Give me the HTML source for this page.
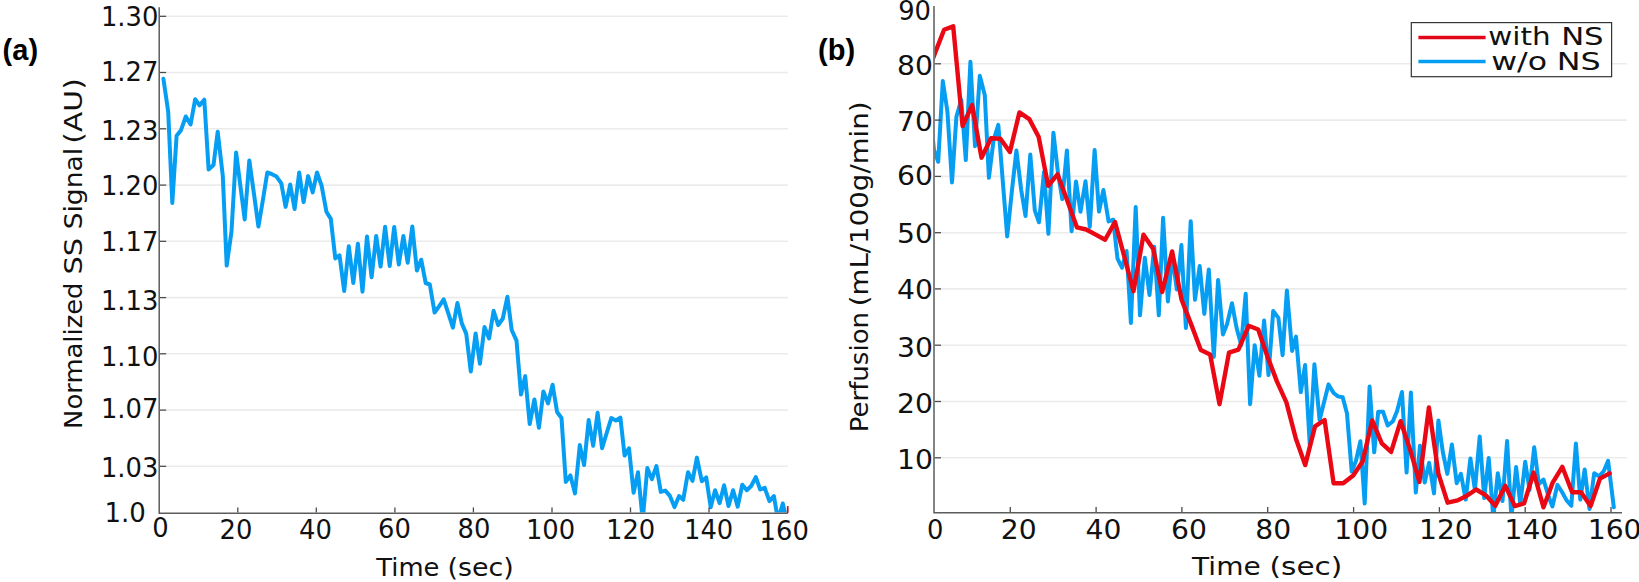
<!DOCTYPE html>
<html lang="en">
<head>
<meta charset="utf-8">
<title>Normalized SS signal and perfusion over time</title>
<style>
html,body{margin:0;padding:0;background:#fff;}
body{width:1639px;height:582px;overflow:hidden;}
svg{display:block;}
.t{font-family:'DejaVu Sans','Liberation Sans',sans-serif;font-size:25.8px;fill:#111;}
.l{font-family:'DejaVu Sans','Liberation Sans',sans-serif;font-size:25px;fill:#111;}
.p{font-family:'Liberation Sans',sans-serif;font-weight:bold;font-size:29px;fill:#000;}
.ax{stroke:#5c5c5c;stroke-width:1.5;fill:none;}
.tk{stroke:#4a4a4a;stroke-width:1.3;fill:none;}
.g{stroke:#ebebeb;stroke-width:1.6;fill:none;}
.b{stroke:#069ef2;stroke-width:4.0;fill:none;stroke-linejoin:round;stroke-linecap:round;}
.r{stroke:#ea0814;stroke-width:4.4;fill:none;stroke-linejoin:round;stroke-linecap:round;}
</style>
</head>
<body>
<svg width="1639" height="582" viewBox="0 0 1639 582">
<rect x="0" y="0" width="1639" height="582" fill="#ffffff"/>
<defs>
<clipPath id="ca"><rect x="159.9" y="0" width="628.7" height="512.5"/></clipPath>
<clipPath id="cb"><rect x="934.7" y="0" width="690" height="512.0"/></clipPath>
</defs>

<line class="g" x1="166.2" y1="16.3" x2="787.9" y2="16.3"/>
<line class="g" x1="166.2" y1="72.5" x2="787.9" y2="72.5"/>
<line class="g" x1="166.2" y1="128.8" x2="787.9" y2="128.8"/>
<line class="g" x1="166.2" y1="185.1" x2="787.9" y2="185.1"/>
<line class="g" x1="166.2" y1="241.3" x2="787.9" y2="241.3"/>
<line class="g" x1="166.2" y1="297.6" x2="787.9" y2="297.6"/>
<line class="g" x1="166.2" y1="353.8" x2="787.9" y2="353.8"/>
<line class="g" x1="166.2" y1="410.1" x2="787.9" y2="410.1"/>
<line class="g" x1="166.2" y1="466.3" x2="787.9" y2="466.3"/>
<g clip-path="url(#ca)"><polyline class="b" points="163.4,78.8 168.2,111.7 172.3,203.0 176.6,135.8 181.0,130.2 185.8,116.5 190.6,124.5 195.2,99.2 199.5,105.4 204.3,99.7 208.6,169.4 213.5,165.0 217.7,131.7 222.8,176.1 226.7,265.6 231.5,231.4 236.1,152.5 240.4,186.0 244.7,219.4 249.3,160.4 253.9,193.4 258.4,226.6 262.9,200.0 267.3,172.5 272.0,174.2 276.5,176.6 281.3,183.3 285.6,206.9 290.2,184.5 294.6,209.0 299.2,172.5 303.6,202.1 308.1,176.1 312.7,192.4 317.0,172.5 321.6,185.7 326.4,211.7 330.8,218.9 335.3,258.4 339.5,255.3 344.2,291.0 348.8,246.2 353.3,283.0 357.9,243.8 362.5,291.7 367.0,236.5 371.6,277.3 376.2,236.0 380.6,266.6 385.1,226.7 389.7,266.0 394.2,226.9 398.8,264.5 403.4,236.0 407.7,262.8 412.3,226.4 416.9,270.5 421.2,259.7 425.7,283.0 429.8,284.5 434.6,312.6 439.2,306.1 443.7,299.3 448.4,313.6 452.9,327.7 457.4,303.0 461.8,323.4 466.2,333.6 470.8,371.4 475.6,333.4 479.9,363.7 484.5,326.9 489.1,338.5 493.6,310.8 498.2,325.2 502.8,318.5 507.4,296.8 511.7,330.0 516.5,340.6 521.0,394.5 525.2,376.1 529.7,424.1 534.4,399.4 538.9,427.7 543.4,391.4 548.0,403.4 552.6,384.8 557.1,412.0 561.5,418.0 565.8,481.9 570.4,475.4 575.0,493.4 579.8,445.1 584.1,465.0 588.7,420.0 593.2,445.8 597.6,412.8 602.1,448.2 606.7,433.0 611.3,418.1 615.8,420.5 620.4,417.6 624.6,455.6 629.0,448.3 633.6,492.8 638.0,472.2 642.7,520.0 647.3,468.1 651.9,479.2 656.4,466.1 660.8,491.9 665.3,490.6 669.7,495.6 674.5,507.1 679.1,496.1 683.2,499.8 688.0,472.3 692.5,480.9 696.9,457.6 701.8,481.2 706.2,477.4 710.7,507.3 715.1,490.2 719.6,503.2 724.1,485.3 728.5,506.0 733.1,490.2 737.7,506.6 742.3,484.7 746.8,490.2 751.2,486.0 755.8,477.1 760.2,489.5 764.7,487.8 769.4,501.1 773.9,496.1 778.0,520.0 782.8,503.5 786.9,522.0"/></g>
<line x1="787.7" y1="506" x2="787.7" y2="513" stroke="#ea0814" stroke-width="1.6"/>
<path class="ax" d="M159.2,7.3 V513.2 H787.9"/>
<line class="tk" x1="160.0" y1="16.3" x2="166.2" y2="16.3"/>
<line class="tk" x1="160.0" y1="72.5" x2="166.2" y2="72.5"/>
<line class="tk" x1="160.0" y1="128.8" x2="166.2" y2="128.8"/>
<line class="tk" x1="160.0" y1="185.1" x2="166.2" y2="185.1"/>
<line class="tk" x1="160.0" y1="241.3" x2="166.2" y2="241.3"/>
<line class="tk" x1="160.0" y1="297.6" x2="166.2" y2="297.6"/>
<line class="tk" x1="160.0" y1="353.8" x2="166.2" y2="353.8"/>
<line class="tk" x1="160.0" y1="410.1" x2="166.2" y2="410.1"/>
<line class="tk" x1="160.0" y1="466.3" x2="166.2" y2="466.3"/>
<line class="tk" x1="237.8" y1="512.4000000000001" x2="237.8" y2="507.40000000000003"/>
<line class="tk" x1="316.3" y1="512.4000000000001" x2="316.3" y2="507.40000000000003"/>
<line class="tk" x1="394.9" y1="512.4000000000001" x2="394.9" y2="507.40000000000003"/>
<line class="tk" x1="473.4" y1="512.4000000000001" x2="473.4" y2="507.40000000000003"/>
<line class="tk" x1="552.0" y1="512.4000000000001" x2="552.0" y2="507.40000000000003"/>
<line class="tk" x1="630.5" y1="512.4000000000001" x2="630.5" y2="507.40000000000003"/>
<line class="tk" x1="709.0" y1="512.4000000000001" x2="709.0" y2="507.40000000000003"/>
<line class="tk" x1="787.6" y1="512.4000000000001" x2="787.6" y2="507.40000000000003"/>
<text class="t" x="158.4" y="26.0" text-anchor="end">1.30</text>
<text class="t" x="158.4" y="80.6" text-anchor="end">1.27</text>
<text class="t" x="158.4" y="139.9" text-anchor="end">1.23</text>
<text class="t" x="158.4" y="195.0" text-anchor="end">1.20</text>
<text class="t" x="158.4" y="251.4" text-anchor="end">1.17</text>
<text class="t" x="158.4" y="309.6" text-anchor="end">1.13</text>
<text class="t" x="158.4" y="365.5" text-anchor="end">1.10</text>
<text class="t" x="158.4" y="418.3" text-anchor="end">1.07</text>
<text class="t" x="158.4" y="477.4" text-anchor="end">1.03</text>
<text class="t" x="104.4" y="522.1" textLength="41.3" lengthAdjust="spacingAndGlyphs">1.0</text>
<text class="t" x="160.5" y="536.9" text-anchor="middle">0</text>
<text class="t" x="235.9" y="538.9" text-anchor="middle">20</text>
<text class="t" x="315.4" y="538.7" text-anchor="middle">40</text>
<text class="t" x="394.4" y="538.0" text-anchor="middle">60</text>
<text class="t" x="473.9" y="538.3" text-anchor="middle">80</text>
<text class="t" x="550.5" y="538.5" text-anchor="middle">100</text>
<text class="t" x="630.6" y="539.1" text-anchor="middle">120</text>
<text class="t" x="708.6" y="539.2" text-anchor="middle">140</text>
<text class="t" x="784.2" y="539.6" text-anchor="middle">160</text>
<text class="p" x="2.6" y="60.2">(a)</text>
<line class="g" x1="941.0" y1="63.8" x2="1626.8" y2="63.8"/>
<line class="g" x1="941.0" y1="120.1" x2="1626.8" y2="120.1"/>
<line class="g" x1="941.0" y1="176.4" x2="1626.8" y2="176.4"/>
<line class="g" x1="941.0" y1="232.7" x2="1626.8" y2="232.7"/>
<line class="g" x1="941.0" y1="288.9" x2="1626.8" y2="288.9"/>
<line class="g" x1="941.0" y1="345.2" x2="1626.8" y2="345.2"/>
<line class="g" x1="941.0" y1="401.5" x2="1626.8" y2="401.5"/>
<line class="g" x1="941.0" y1="457.8" x2="1626.8" y2="457.8"/>
<g clip-path="url(#cb)"><polyline class="b" points="931.0,120.0 934.0,150.0 938.2,161.8 942.8,81.0 947.4,111.5 952.0,182.4 956.4,116.7 961.3,99.9 965.8,160.1 970.4,61.7 975.0,146.2 979.8,75.8 984.8,95.3 988.9,177.8 993.6,140.0 998.3,124.9 1002.8,181.5 1007.2,236.4 1012.0,190.0 1016.4,150.5 1021.2,190.0 1025.5,216.0 1030.3,154.6 1034.8,210.3 1039.0,222.3 1044.0,172.0 1048.4,233.8 1053.4,132.8 1058.0,173.0 1062.3,199.1 1066.9,150.4 1071.6,231.2 1076.0,181.5 1080.5,211.8 1085.5,181.2 1089.8,226.9 1094.6,150.0 1099.0,211.5 1103.4,190.0 1108.6,221.5 1113.2,219.7 1117.5,258.7 1122.0,267.7 1126.6,251.0 1130.9,323.0 1135.7,207.1 1140.0,315.3 1144.8,257.7 1149.5,295.0 1154.2,246.8 1158.8,315.3 1163.1,217.8 1167.9,301.5 1172.2,255.0 1176.8,289.5 1181.4,245.1 1185.9,328.0 1190.7,221.2 1195.0,299.8 1199.7,266.1 1204.3,313.9 1208.8,269.5 1213.8,356.9 1218.1,279.9 1222.9,334.4 1227.1,323.9 1232.0,303.3 1236.6,328.0 1241.2,345.0 1245.7,293.8 1250.1,404.2 1254.7,345.2 1259.4,375.8 1264.1,320.4 1268.5,375.0 1273.2,311.0 1278.4,317.9 1282.6,355.2 1286.9,290.4 1292.1,350.9 1296.0,336.6 1300.8,392.1 1305.1,365.0 1309.8,445.0 1314.4,364.3 1319.6,420.0 1324.1,402.0 1328.5,384.4 1333.6,393.0 1338.0,396.4 1342.7,397.2 1347.0,413.6 1351.7,471.5 1355.9,461.0 1360.4,441.3 1364.7,503.5 1369.6,386.6 1374.2,452.3 1378.2,411.8 1383.1,411.8 1387.7,425.5 1392.9,421.2 1397.1,410.9 1402.0,392.0 1406.6,472.6 1410.9,392.4 1415.8,492.6 1420.0,445.8 1424.7,482.6 1429.1,462.9 1434.0,493.4 1438.4,420.4 1442.8,452.0 1447.3,473.9 1451.9,444.6 1456.7,483.3 1460.9,473.9 1465.7,499.6 1470.4,458.4 1474.9,490.0 1479.7,436.5 1484.2,498.0 1488.7,458.1 1493.3,518.0 1497.8,473.3 1502.5,501.1 1507.1,441.1 1511.4,518.0 1516.1,467.1 1520.3,504.2 1525.2,461.7 1529.5,490.0 1534.2,447.3 1538.8,484.1 1543.5,479.5 1548.1,495.0 1552.4,506.5 1557.4,484.9 1562.0,492.0 1566.6,500.4 1571.3,505.8 1575.9,443.6 1580.3,499.6 1584.7,469.4 1589.5,508.9 1594.2,473.3 1599.1,476.4 1603.8,471.0 1608.1,460.9 1613.8,507.3"/><polyline class="r" points="925.0,80.0 934.3,54.9 944.1,29.8 953.2,26.3 962.6,126.0 972.1,105.1 981.5,157.7 991.0,138.2 1000.4,138.8 1009.9,152.0 1019.4,112.4 1029.3,119.1 1038.6,136.7 1048.2,185.8 1057.5,174.3 1067.5,201.3 1077.0,227.4 1086.2,229.5 1095.7,234.6 1105.1,239.8 1115.0,222.0 1124.3,256.5 1133.5,291.2 1143.5,234.7 1153.2,249.0 1162.2,292.1 1172.1,251.4 1181.6,299.8 1191.0,323.9 1200.8,350.1 1210.1,354.4 1219.5,404.2 1229.0,352.6 1238.4,349.6 1248.7,325.8 1258.2,329.5 1267.6,357.0 1277.1,381.9 1286.4,402.4 1295.8,438.4 1305.2,465.1 1315.0,426.4 1324.6,420.0 1333.6,483.3 1343.2,483.3 1353.2,475.6 1362.6,461.6 1372.2,420.4 1381.8,443.3 1391.1,451.9 1400.6,421.2 1409.8,448.6 1419.4,482.0 1428.9,407.5 1438.5,474.0 1447.6,502.7 1457.6,500.4 1466.9,495.7 1476.2,489.5 1485.8,495.3 1495.3,505.8 1505.3,485.7 1514.8,506.1 1524.1,503.4 1533.7,472.5 1543.5,507.3 1552.7,482.6 1562.3,466.8 1572.1,492.3 1581.0,492.3 1590.6,506.1 1599.9,478.7 1609.6,473.3"/></g>
<path class="ax" d="M934.0,6.1 V512.7 H1622.0"/>
<line class="tk" x1="934.8" y1="63.8" x2="941.0" y2="63.8"/>
<line class="tk" x1="934.8" y1="120.1" x2="941.0" y2="120.1"/>
<line class="tk" x1="934.8" y1="176.4" x2="941.0" y2="176.4"/>
<line class="tk" x1="934.8" y1="232.7" x2="941.0" y2="232.7"/>
<line class="tk" x1="934.8" y1="288.9" x2="941.0" y2="288.9"/>
<line class="tk" x1="934.8" y1="345.2" x2="941.0" y2="345.2"/>
<line class="tk" x1="934.8" y1="401.5" x2="941.0" y2="401.5"/>
<line class="tk" x1="934.8" y1="457.8" x2="941.0" y2="457.8"/>
<line class="tk" x1="1010.3" y1="511.90000000000003" x2="1010.3" y2="507.1"/>
<line class="tk" x1="1096.1" y1="511.90000000000003" x2="1096.1" y2="507.1"/>
<line class="tk" x1="1181.9" y1="511.90000000000003" x2="1181.9" y2="507.1"/>
<line class="tk" x1="1267.7" y1="511.90000000000003" x2="1267.7" y2="507.1"/>
<line class="tk" x1="1353.6" y1="511.90000000000003" x2="1353.6" y2="507.1"/>
<line class="tk" x1="1439.4" y1="511.90000000000003" x2="1439.4" y2="507.1"/>
<line class="tk" x1="1525.2" y1="511.90000000000003" x2="1525.2" y2="507.1"/>
<line class="tk" x1="1611.0" y1="511.90000000000003" x2="1611.0" y2="507.1"/>
<text class="t" x="931.0" y="20.0" text-anchor="end">90</text>
<text class="t" transform="translate(932.9,75.0) scale(1.094,1)" text-anchor="end">80</text>
<text class="t" transform="translate(932.9,130.9) scale(1.094,1)" text-anchor="end">70</text>
<text class="t" transform="translate(932.9,185.0) scale(1.094,1)" text-anchor="end">60</text>
<text class="t" transform="translate(932.9,243.3) scale(1.094,1)" text-anchor="end">50</text>
<text class="t" transform="translate(932.9,298.8) scale(1.094,1)" text-anchor="end">40</text>
<text class="t" transform="translate(932.9,356.9) scale(1.094,1)" text-anchor="end">30</text>
<text class="t" transform="translate(932.9,412.7) scale(1.094,1)" text-anchor="end">20</text>
<text class="t" transform="translate(932.9,469.1) scale(1.094,1)" text-anchor="end">10</text>
<text class="t" x="935.3" y="538.7" text-anchor="middle">0</text>
<text class="t" transform="translate(1018.8,539.0) scale(1.094,1)" text-anchor="middle">20</text>
<text class="t" transform="translate(1103.4,539.4) scale(1.094,1)" text-anchor="middle">40</text>
<text class="t" transform="translate(1188.9,538.9) scale(1.094,1)" text-anchor="middle">60</text>
<text class="t" transform="translate(1273.3,538.7) scale(1.094,1)" text-anchor="middle">80</text>
<text class="t" transform="translate(1361.2,538.7) scale(1.094,1)" text-anchor="middle">100</text>
<text class="t" transform="translate(1445.9,538.9) scale(1.094,1)" text-anchor="middle">120</text>
<text class="t" transform="translate(1531.4,539.2) scale(1.094,1)" text-anchor="middle">140</text>
<text class="t" transform="translate(1614.6,539.2) scale(1.094,1)" text-anchor="middle">160</text>
<text class="p" x="818.1" y="59.9">(b)</text>
<rect x="1411.3" y="22.6" width="200.3" height="54.1" fill="#fff" stroke="#333" stroke-width="1.2"/>
<line x1="1418.4" y1="37.5" x2="1485.6" y2="37.5" stroke="#e2081a" stroke-width="3.5"/>
<line x1="1418.4" y1="61.6" x2="1485.6" y2="61.6" stroke="#069ef2" stroke-width="3.5"/>
<text class="l" transform="translate(376.30,575.6) scale(1.0326,1)">Time</text>
<text class="l" transform="translate(447.58,575.6) scale(1.0742,1)">(sec)</text>
<text class="l" transform="translate(1192.10,575.1) scale(1.1213,1)">Time</text>
<text class="l" transform="translate(1269.54,575.1) scale(1.1808,1)">(sec)</text>
<text class="l" transform="translate(1488.27,44.7) scale(1.1770,1)">with</text>
<text class="l" transform="translate(1561.13,44.7) scale(1.2293,1)">NS</text>
<text class="l" transform="translate(1491.24,70.0) scale(1.2647,1)">w/o</text>
<text class="l" transform="translate(1556.72,70.0) scale(1.2715,1)">NS</text>
<text class="l" transform="translate(82.3,428.88) rotate(-90) scale(1.0328,1)">Normalized</text>
<text class="l" transform="translate(82.3,274.53) rotate(-90) scale(1.1579,1)">SS</text>
<text class="l" transform="translate(82.3,229.36) rotate(-90) scale(1.0612,1)">Signal</text>
<text class="l" transform="translate(82.3,143.68) rotate(-90) scale(1.1921,1)">(AU)</text>
<text class="l" transform="translate(868.0,432.30) rotate(-90) scale(1.0414,1)">Perfusion</text>
<text class="l" transform="translate(868.0,306.29) rotate(-90) scale(1.1055,1)">(mL/100g/min)</text>
</svg>
</body>
</html>
